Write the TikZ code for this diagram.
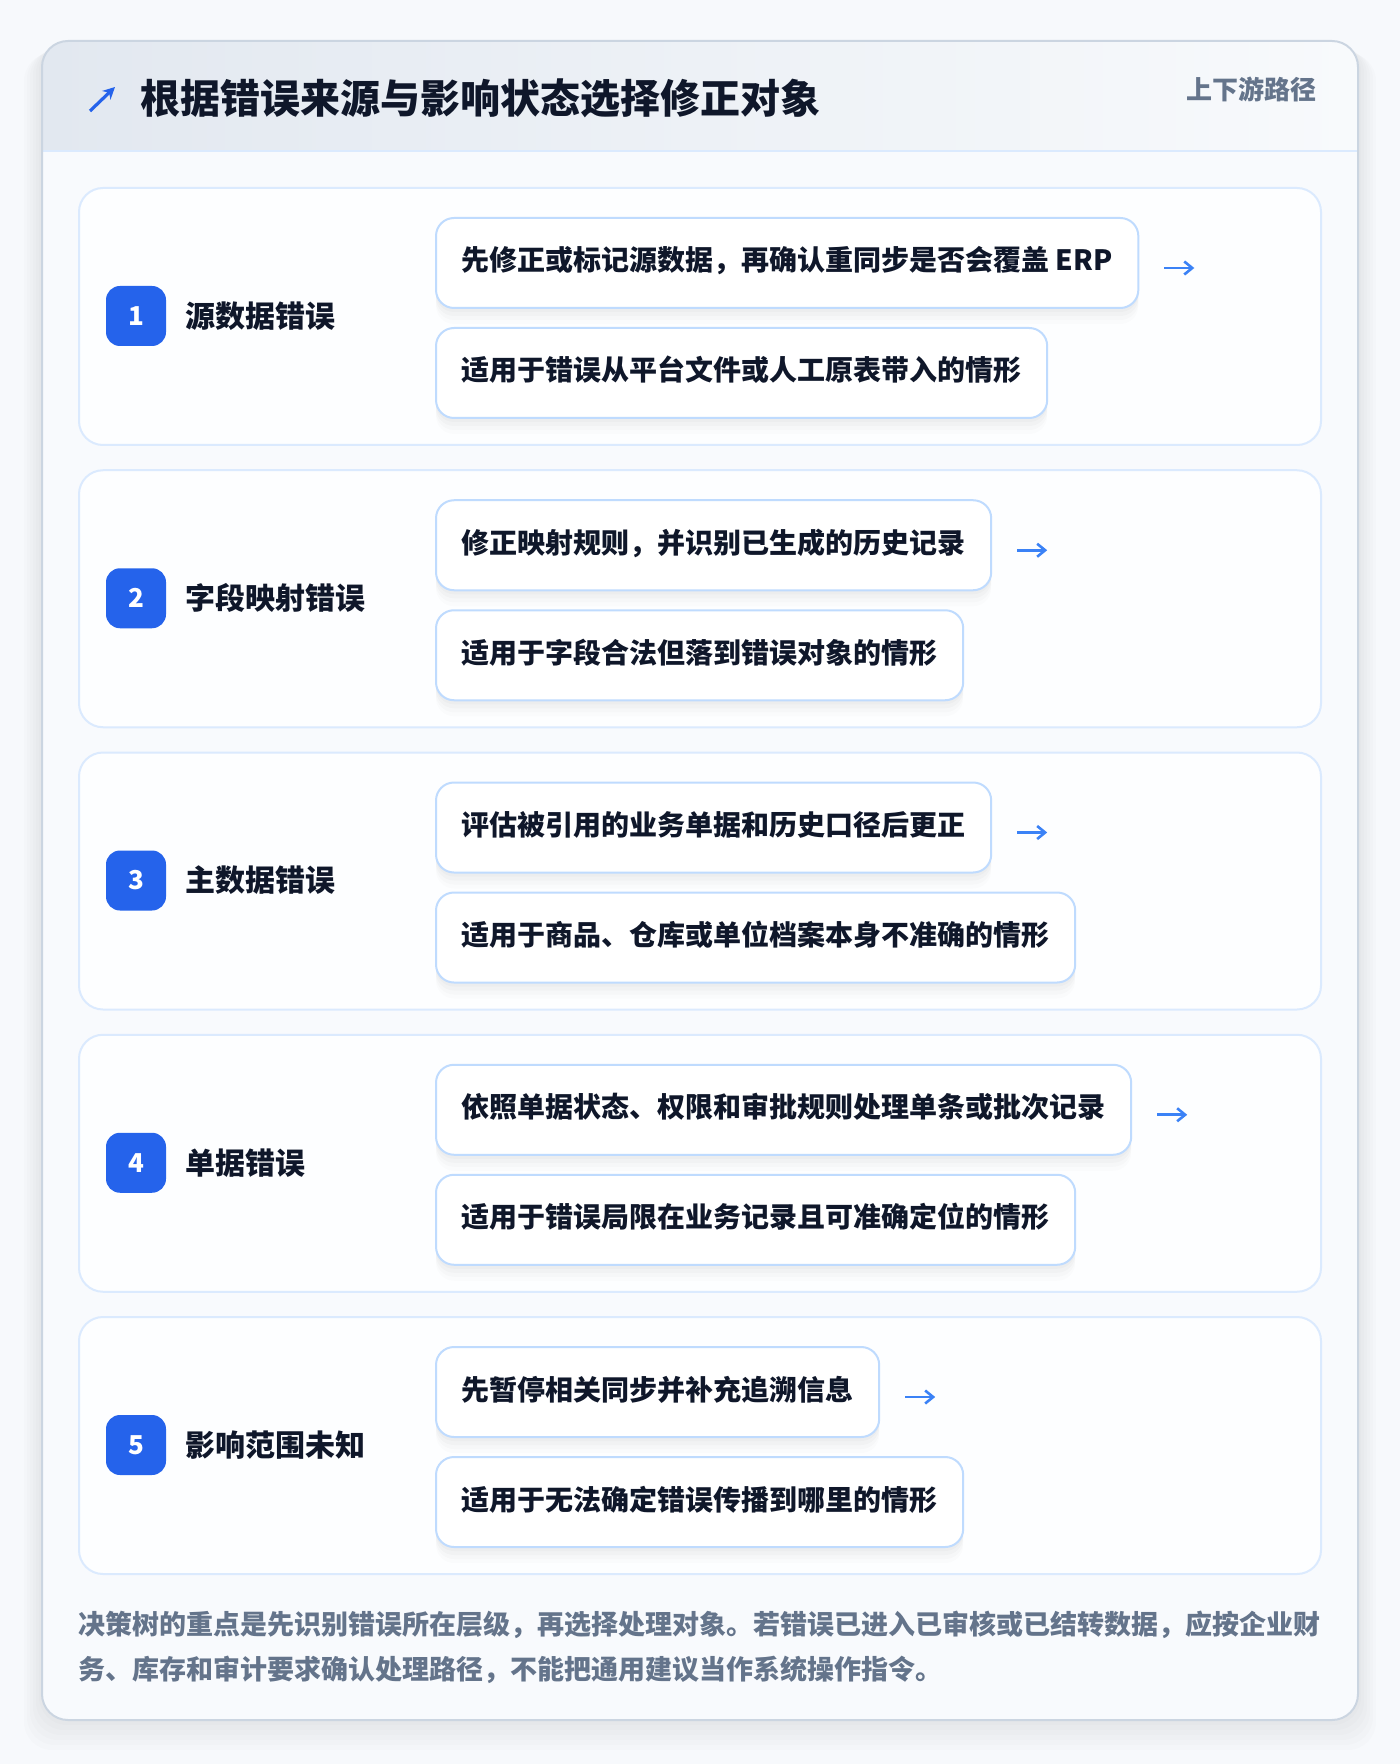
\documentclass[tikz,border=0pt]{standalone}
\usepackage{fontspec}
\setmainfont{Noto Sans CJK SC}
\usetikzlibrary{positioning,arrows.meta,shadows}
\definecolor{ink}{HTML}{0F172A}
\definecolor{slate}{HTML}{64748B}
\definecolor{brand}{HTML}{2563EB}
\definecolor{arrowblue}{HTML}{3B82F6}
\definecolor{edgeblue}{HTML}{BFDBFE}
\definecolor{cardedge}{HTML}{DBEAFE}
\definecolor{frame}{HTML}{CBD5E1}
\definecolor{paper}{HTML}{F7F9FC}
\definecolor{inner}{HTML}{F8FAFD}
\definecolor{cardfill}{HTML}{FDFEFF}
\definecolor{headl}{HTML}{E2E8F0}
\definecolor{headr}{HTML}{F8FAFC}
\tikzset{
  softshadow/.style={drop shadow={shadow xshift=0pt,shadow yshift=-8pt,opacity=.012,fill=black},
                     drop shadow={shadow xshift=0pt,shadow yshift=-6pt,opacity=.015,fill=black},
                     drop shadow={shadow xshift=0pt,shadow yshift=-4pt,opacity=.02,fill=black},
                     drop shadow={shadow xshift=0pt,shadow yshift=-2pt,opacity=.02,fill=black}},
  card/.style={draw=cardedge, line width=1pt, fill=cardfill, rounded corners=12pt},
  badge/.style={fill=brand, rounded corners=7pt, minimum size=30pt, inner sep=0pt, text=white,
                font=\fontsize{13}{13}\selectfont\bfseries},
  kind/.style={inner sep=0pt, text=ink, font=\fontsize{15}{15}\selectfont\bfseries},
  tbox/.style={draw=edgeblue, line width=1pt, fill=white, rounded corners=9pt, minimum height=45pt,
               inner xsep=12.8pt, inner ysep=0pt, text height=10.5pt, text depth=2.5pt, text=ink,
               font=\fontsize{14}{14}\selectfont\bfseries, softshadow},
  nextarrow/.style={draw=arrowblue, line width=1.3pt, -{Straight Barb[length=4pt,width=6.5pt]}},
}
\begin{document}
\begin{tikzpicture}[x=0.5pt,y=-0.5pt]
\fill[paper] (0,0) rectangle (1400,1764);
% outer card with its shadow
\foreach \k in {1,...,6}
  \fill[black,opacity=.012,rounded corners=14pt] (42-\k*3,41+\k*2) rectangle (1358+\k*3,1720+\k*5);
\fill[inner,rounded corners=13pt] (42,41) rectangle (1358,1720);
\begin{scope}
  \clip[rounded corners=13pt] (42,41) rectangle (1358,1720);
  \shade[left color=headl,right color=headr] (42,41) rectangle (1358,151);
\end{scope}
\draw[cardedge,line width=1pt] (42,151) -- (1358,151);
\draw[frame,line width=1pt,rounded corners=13pt] (42,41) rectangle (1358,1720);
% header
\coordinate (ta) at (90,111);
\coordinate (tb) at (115,87);
\draw[brand,line width=1.6pt,-{Stealth[length=6pt,width=6pt]}] (ta) -- (tb);
\node[anchor=west,inner sep=0pt,text=ink,font=\fontsize{20}{20}\selectfont\bfseries] (title) at (140,98) {根据错误来源与影响状态选择修正对象};
\node[anchor=east,inner sep=0pt,text=slate,font=\fontsize{13}{13}\selectfont\bfseries] (hint) at (1317,89) {上下游路径};
% one card per error kind
\foreach \i/\lab/\tp/\bt in {
  1/源数据错误/{先修正或标记源数据，再确认重同步是否会覆盖 ERP}/{适用于错误从平台文件或人工原表带入的情形},
  2/字段映射错误/{修正映射规则，并识别已生成的历史记录}/{适用于字段合法但落到错误对象的情形},
  3/主数据错误/{评估被引用的业务单据和历史口径后更正}/{适用于商品、仓库或单位档案本身不准确的情形},
  4/单据错误/{依照单据状态、权限和审批规则处理单条或批次记录}/{适用于错误局限在业务记录且可准确定位的情形},
  5/影响范围未知/{先暂停相关同步并补充追溯信息}/{适用于无法确定错误传播到哪里的情形}}{
  \pgfmathsetmacro\y{188+282.25*(\i-1)}
  \draw[card] (79,\y) rectangle (1321,\y+257);
  \node[badge] (b\i) at (136,\y+128) {\i};
  \node[kind,anchor=west,right=9.5pt of b\i] (k\i) {\lab};
  \node[tbox,anchor=north west] (t\i) at (435,\y+29) {\tp};
  \node[tbox,anchor=north west] (d\i) at (435,\y+139) {\bt};
  \coordinate (p\i) at ([xshift=12.5pt,yshift=-2.5pt]t\i.east);
  \coordinate (q\i) at ([xshift=15pt]p\i);
  \draw[nextarrow] (p\i) -- (q\i);
}
% footer note
\node[anchor=west,inner sep=0pt,align=left,text=slate,font=\fontsize{13.5}{22.5}\selectfont\bfseries] (note) at (78,1647.5)
  {决策树的重点是先识别错误所在层级，再选择处理对象。若错误已进入已审核或已结转数据，应按企业财\\务、库存和审计要求确认处理路径，不能把通用建议当作系统操作指令。};
\end{tikzpicture}
\end{document}
